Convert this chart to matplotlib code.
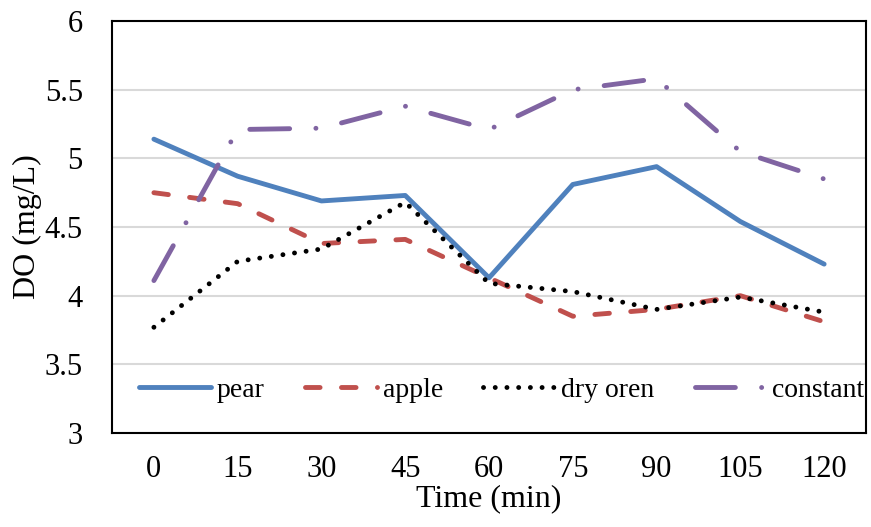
import matplotlib.pyplot as plt
import numpy as np

times = ['0', '15', '30', '45', '60', '75', '90', '105', '120']
pear = [5.14, 4.87, 4.69, 4.73, 4.13, 4.81, 4.94, 4.54, 4.23]
apple = [4.75, 4.67, 4.38, 4.41, 4.13, 3.85, 3.90, 4.00, 3.81]
dry_oren = [3.77, 4.25, 4.34, 4.68, 4.09, 4.03, 3.90, 3.99, 3.88]
constant = [4.11, 5.21, 5.22, 5.38, 5.21, 5.50, 5.58, 5.05, 4.85]

plt.rcParams['font.family'] = ['Liberation Serif', 'DejaVu Serif']

fig = plt.figure(figsize=(8.71, 5.27), dpi=100)
ax = fig.add_axes([0.1286, 0.1784, 0.8657, 0.7816])

x = np.arange(len(times))
lw = 3.5
ax.plot(x, pear, color='#4F81BD', lw=lw, solid_capstyle='round', solid_joinstyle='round', label='pear')
ax.plot(x, apple, color='#C0504D', lw=lw, dashes=(3.0, 4.4), dash_capstyle='round', label='apple')
ax.plot(x, dry_oren, color='black', lw=lw, dashes=(0.01, 2.4), dash_capstyle='round', label='dry oren')
ax.plot(x, constant, color='#8064A2', lw=lw, dashes=(8.2, 5.4, 0.01, 5.4), dash_capstyle='round', label='constant')

ax.set_xlim(-0.5, 8.5)
ax.set_ylim(3, 6)
ax.set_xticks(x)
ax.set_xticklabels(times)
ax.set_yticks([3, 3.5, 4, 4.5, 5, 5.5, 6])
ax.set_yticklabels(['3', '3.5', '4', '4.5', '5', '5.5', '6'])
ax.tick_params(length=0, labelsize=22, pad=16)
ax.tick_params(axis='y', pad=21)
ax.grid(axis='y', color='#d9d9d9', lw=1.5)
ax.set_axisbelow(True)
for s in ax.spines.values():
    s.set_linewidth(1.5)
    s.set_color('black')

ax.set_xlabel('Time (min)', fontsize=23, labelpad=0)
ax.set_ylabel('DO (mg/L)', fontsize=23, labelpad=2)

ax.legend(loc='center', bbox_to_anchor=(0.517, 0.104), ncol=4, frameon=False,
          fontsize=20, handlelength=2.6, handletextpad=0.2, columnspacing=1.45,
          borderpad=0, borderaxespad=0)

fig.savefig('out.png', dpi=100)
